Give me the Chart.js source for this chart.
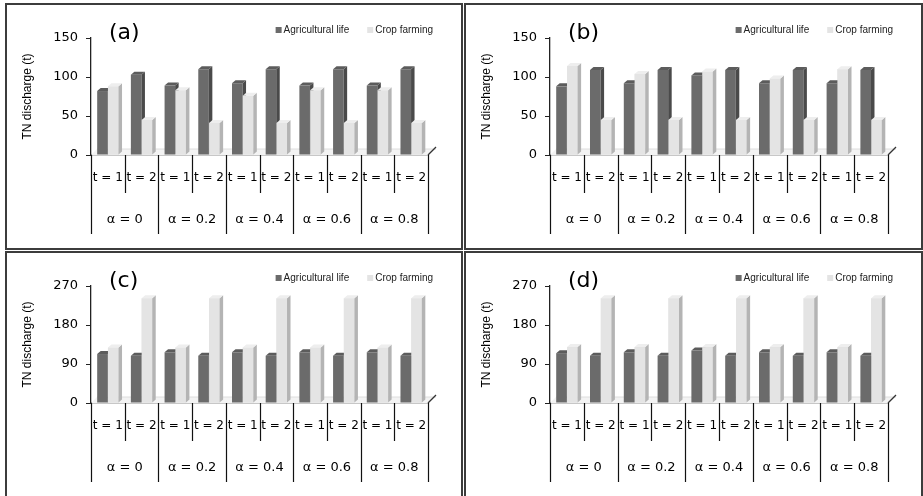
<!DOCTYPE html>
<html>
<head>
<meta charset="utf-8">
<script src="https://cdn.jsdelivr.net/npm/chart.js@4.4.1/dist/chart.umd.min.js"></script>
<style>
  html, body { margin: 0; padding: 0; background: #fff; }
  body { width: 923px; height: 496px; position: relative; overflow: hidden; }
  .panel { position: absolute; border: 2px solid #3c3c3c; box-sizing: border-box; background: #fff; }
  .panel canvas { display: block; }
</style>
</head>
<body>
<div class="panel" style="left:5px;top:3px;width:458px;height:247px"><canvas id="chartA" width="454" height="243"></canvas></div>
<div class="panel" style="left:464px;top:3px;width:459px;height:247px"><canvas id="chartB" width="455" height="243"></canvas></div>
<div class="panel" style="left:5px;top:251px;width:458px;height:250px"><canvas id="chartC" width="454" height="243"></canvas></div>
<div class="panel" style="left:464px;top:251px;width:459px;height:250px"><canvas id="chartD" width="455" height="243"></canvas></div>

<script>
// categories
const tLabels = ['t = 1', 't = 2', 't = 1', 't = 2', 't = 1', 't = 2', 't = 1', 't = 2', 't = 1', 't = 2'];
const alphaLabels = ['α = 0', 'α = 0.2', 'α = 0.4', 'α = 0.6', 'α = 0.8'];
const seriesNames = ['Agricultural life', 'Crop farming'];

// TN discharge (t)
const agriA = [82, 103, 89, 110, 92, 110, 89, 110, 89, 110];
const cropA = [88, 45, 83, 41, 76, 41, 83, 41, 83, 41];
const agriB = [88, 109, 92, 109, 102, 109, 92, 109, 92, 109];
const cropB = [114, 45, 104, 45, 107, 45, 98, 45, 110, 45];
const agriC = [113, 109, 117, 109, 117, 109, 117, 109, 117, 109];
const cropC = [128, 242, 128, 242, 128, 242, 128, 242, 128, 242];
const agriD = [115, 109, 117, 109, 121, 109, 117, 109, 117, 109];
const cropD = [129, 242, 129, 242, 129, 242, 129, 242, 129, 242];

// y tick labels
const ticksTop = [0, 50, 100, 150];
const ticksBottom = [0, 90, 180, 270];

const DX = 3.5, DY = 3;   // fake 3D depth of the columns
const FLOOR = 6;

// light floor under the columns + diagonal at the right end of the axis
const floorPlugin = {
  id: 'floor',
  beforeDatasetsDraw(chart) {
    const { ctx, chartArea: a } = chart;
    ctx.save();
    ctx.fillStyle = '#f3f3f3';
    ctx.beginPath();
    ctx.moveTo(a.left, a.bottom);
    ctx.lineTo(a.left + FLOOR, a.bottom - FLOOR);
    ctx.lineTo(a.right + FLOOR + 2, a.bottom - FLOOR);
    ctx.lineTo(a.right, a.bottom);
    ctx.closePath();
    ctx.fill();
    ctx.strokeStyle = '#dedede';
    ctx.lineWidth = 1;
    ctx.beginPath();
    ctx.moveTo(a.left + FLOOR, a.bottom - FLOOR);
    ctx.lineTo(a.right + FLOOR + 2, a.bottom - FLOOR);
    ctx.stroke();
    ctx.strokeStyle = '#333';
    ctx.lineWidth = 1.2;
    ctx.beginPath();
    ctx.moveTo(a.right, a.bottom);
    ctx.lineTo(a.right + FLOOR + 2, a.bottom - FLOOR - 2);
    ctx.stroke();
    ctx.restore();
  }
};

// side and top faces for every column; later datasets are redrawn on top
// so the right-hand column hides the side of the left one
const barDepthPlugin = {
  id: 'barDepth',
  afterDatasetsDraw(chart) {
    const ctx = chart.ctx;
    ctx.save();
    chart.data.datasets.forEach((ds, i) => {
      const meta = chart.getDatasetMeta(i);
      meta.data.forEach(bar => {
        if (i > 0) bar.draw(ctx);
        const { x, y, base, width } = bar.getProps(['x', 'y', 'base', 'width'], true);
        const l = x - width / 2, r = x + width / 2;
        ctx.fillStyle = ds.sideColor;
        ctx.beginPath();
        ctx.moveTo(r, y);
        ctx.lineTo(r + DX, y - DY);
        ctx.lineTo(r + DX, base - DY);
        ctx.lineTo(r, base);
        ctx.closePath();
        ctx.fill();
        ctx.fillStyle = ds.topColor;
        ctx.beginPath();
        ctx.moveTo(l, y);
        ctx.lineTo(l + DX, y - DY);
        ctx.lineTo(r + DX, y - DY);
        ctx.lineTo(r, y);
        ctx.closePath();
        ctx.fill();
      });
    });
    ctx.restore();
  }
};

// table-like separators under the x axis (short for t, long for alpha)
const dividerPlugin = {
  id: 'dividers',
  afterDraw(chart) {
    const { ctx, chartArea: a } = chart;
    const xs = chart.scales.x, x2 = chart.scales.x2;
    const n = xs.getLabels().length;
    const step = (xs.right - xs.left) / n;
    ctx.save();
    ctx.strokeStyle = '#111';
    ctx.lineWidth = 1.2;
    for (let i = 0; i <= n; i++) {
      const px = Math.round(xs.left + i * step) + 0.5;
      ctx.beginPath();
      ctx.moveTo(px, a.bottom);
      ctx.lineTo(px, i % 2 === 0 ? x2.bottom : xs.bottom);
      ctx.stroke();
    }
    ctx.restore();
  }
};

// panel tag "(a)" and the small legend in the top right
const headerPlugin = {
  id: 'header',
  afterDraw(chart, args, opts) {
    const { ctx, chartArea: a } = chart;
    ctx.save();
    ctx.fillStyle = '#000';
    ctx.font = '22px "DejaVu Sans", sans-serif';
    ctx.textBaseline = 'alphabetic';
    ctx.fillText(opts.tag, a.left + 18, 34);

    ctx.font = '10px "Liberation Sans", Arial, sans-serif';
    ctx.textBaseline = 'middle';
    const rowY = 25;
    let cursor = a.right + 5;
    const sets = chart.data.datasets;
    for (let i = sets.length - 1; i >= 0; i--) {
      const w = ctx.measureText(sets[i].label).width;
      const tx = cursor - w;
      ctx.fillStyle = '#222';
      ctx.fillText(sets[i].label, tx, rowY);
      ctx.fillStyle = sets[i].backgroundColor;
      ctx.fillRect(tx - 8, rowY - 3, 6, 6);
      cursor = tx - 8 - 18;
    }
    ctx.restore();
  }
};

function makePanel(canvasId, tag, agri, crop, yTicks) {
  const yMax = yTicks[yTicks.length - 1];
  return new Chart(document.getElementById(canvasId), {
    type: 'bar',
    data: {
      labels: tLabels,
      datasets: [
        {
          label: seriesNames[0],
          data: agri,
          backgroundColor: '#6b6b6b',
          sideColor: '#4a4a4a',
          topColor: '#5c5c5c',
          categoryPercentage: 0.64,
          barPercentage: 0.98
        },
        {
          label: seriesNames[1],
          data: crop,
          backgroundColor: '#e4e4e4',
          sideColor: '#b4b4b4',
          topColor: '#eeeeee',
          categoryPercentage: 0.64,
          barPercentage: 0.98
        }
      ]
    },
    options: {
      responsive: false,
      animation: false,
      layout: { padding: { top: 33, right: 33, bottom: 14, left: 0 } },
      plugins: {
        legend: { display: false },
        tooltip: { enabled: false },
        header: { tag: tag }
      },
      scales: {
        x: {
          offset: true,
          grid: { display: false, drawTicks: false },
          border: { display: true, color: '#222', width: 1.3 },
          ticks: {
            autoSkip: false, maxRotation: 0, padding: 16, color: '#000',
            font: { family: '"DejaVu Sans", sans-serif', size: 12 }
          },
          afterFit: (s) => { s.height = 38; }
        },
        x2: {
          type: 'category',
          position: 'bottom',
          labels: alphaLabels,
          offset: true,
          grid: { display: false, drawTicks: false },
          border: { display: false },
          ticks: {
            autoSkip: false, maxRotation: 0, padding: 19, color: '#000',
            font: { family: '"DejaVu Sans", sans-serif', size: 13 }
          },
          afterFit: (s) => { s.height = 41; }
        },
        y: {
          min: 0,
          max: yMax,
          grid: { drawOnChartArea: false, drawTicks: true, tickLength: 5, tickColor: '#222' },
          border: { display: true, color: '#222', width: 1.3 },
          ticks: {
            stepSize: yTicks[1] - yTicks[0], padding: 8, color: '#000',
            font: { family: '"DejaVu Sans", sans-serif', size: 13 }
          },
          title: {
            display: true,
            text: 'TN discharge (t)',
            color: '#000',
            padding: { top: 13, bottom: 0 },
            font: { family: '"Liberation Sans Narrow", "Liberation Sans", Arial, sans-serif', size: 12 }
          },
          afterFit: (s) => { s.width = 84; }
        }
      }
    },
    plugins: [floorPlugin, barDepthPlugin, dividerPlugin, headerPlugin]
  });
}

makePanel('chartA', '(a)', agriA, cropA, ticksTop);
makePanel('chartB', '(b)', agriB, cropB, ticksTop);
makePanel('chartC', '(c)', agriC, cropC, ticksBottom);
makePanel('chartD', '(d)', agriD, cropD, ticksBottom);
</script>
</body>
</html>
